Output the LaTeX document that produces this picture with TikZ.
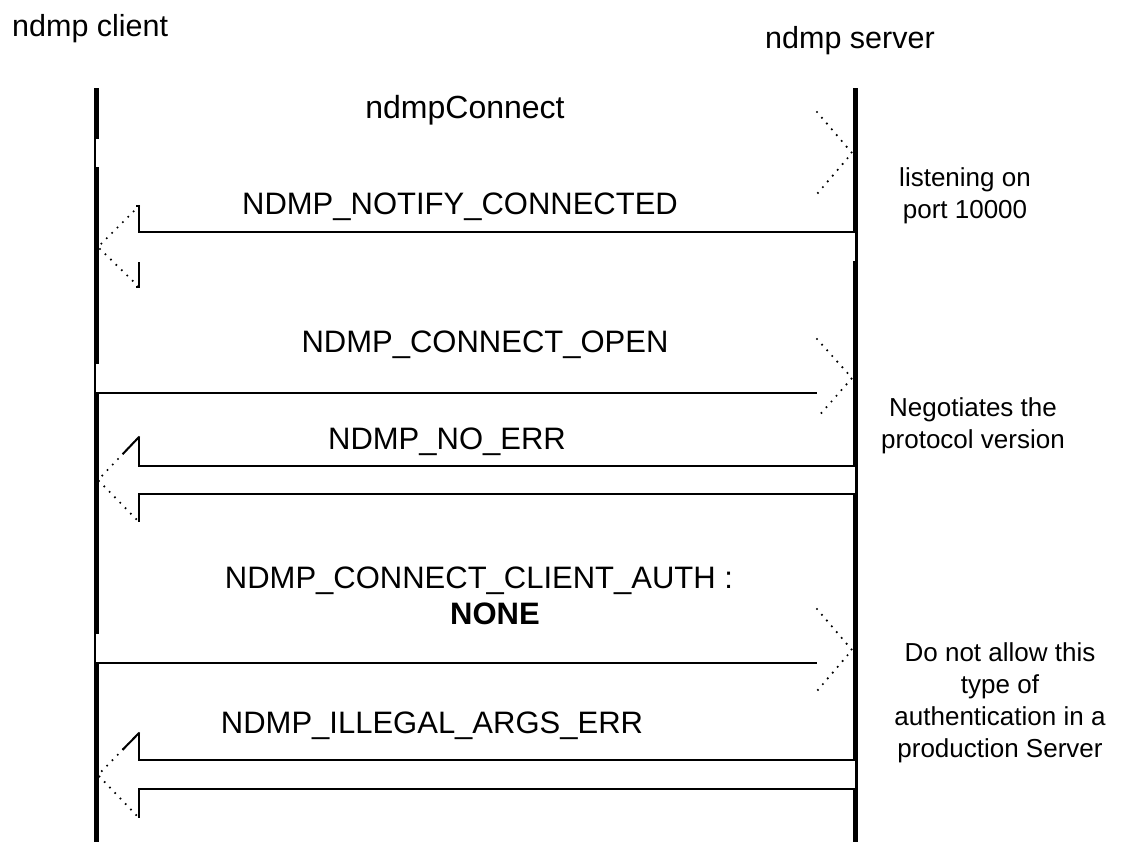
\documentclass[tikz,border=0pt]{standalone}
\usepackage{fontspec}
\setmainfont{Liberation Sans}
\usetikzlibrary{calc}
\begin{document}
\begin{tikzpicture}[x=1pt,y=-1pt,
  life/.style={line width=5pt},
  edge/.style={line width=2pt},
  dots/.style={line width=2.4pt,line cap=round,dash pattern=on 0pt off 7.6pt},
  body/.style={fill=white,draw=none},
  msg/.style={font=\fontsize{31}{36}\selectfont,inner sep=0pt,anchor=base},
  actor/.style={font=\fontsize{30.5}{36}\selectfont,inner sep=0pt,anchor=base west},
  note/.style={font=\fontsize{26}{32}\selectfont,inner sep=0pt,align=center,anchor=north}]
\useasboundingbox (0,0) rectangle (1122,844);

% participants
\node[actor] (client) at (12,36) {ndmp client};
\node[actor] (server) at (765,48) {ndmp server};

% lifelines
\coordinate (cTop) at (96,88);  \coordinate (cBot) at (96,842);
\coordinate (sTop) at (855,88); \coordinate (sBot) at (855,842);
\draw[life] (cTop) -- (cBot);
\draw[life] (sTop) -- (sBot);

% 1: ndmpConnect (client -> server)
\fill[body] (96,139) rectangle (817,167);
\draw[dots] (817,112) -- (852,153) -- (817,194);
\node[msg,font=\fontsize{32}{36}\selectfont] (m1) at (465,118) {ndmpConnect};

% 2: NDMP_NOTIFY_CONNECTED (server -> client)
\fill[body] (139,232) rectangle (855,261);
\draw[edge] (855,232) -- (139,232) -- (139,206) -- (136,206);
\draw[edge] (136,287) -- (139,287) -- (139,262);
\draw[dots] (139,206) -- (98,247) -- (139,287);
\node[msg] (m2) at (460,214) {NDMP\_NOTIFY\_CONNECTED};

% 3: NDMP_CONNECT_OPEN (client -> server)
\fill[body] (96,364) rectangle (817,393);
\draw[edge] (96,393) -- (817,393);
\draw[dots] (817,339) -- (852,378) -- (817,418);
\node[msg] (m3) at (485,352) {NDMP\_CONNECT\_OPEN};

% 4: NDMP_NO_ERR (server -> client)
\fill[body] (139,466) rectangle (855,494);
\draw[edge] (855,466) -- (139,466) -- (139,437);
\draw[edge] (855,494) -- (139,494) -- (139,522);
\draw[edge] (139,437) -- ($(139,437)!0.4!(98,480)$);
\draw[dots] (139,437) -- (98,480) -- (139,522);
\node[msg] (m4) at (447,449) {NDMP\_NO\_ERR};

% 5: NDMP_CONNECT_CLIENT_AUTH : NONE (client -> server)
\fill[body] (96,634) rectangle (817,663);
\draw[edge] (96,663) -- (817,663);
\draw[dots] (817,609) -- (852,650) -- (817,691);
\node[msg] (m5) at (479,588) {NDMP\_CONNECT\_CLIENT\_AUTH :};
\node[msg,font=\fontsize{31}{36}\selectfont\bfseries] (m5b) at (495,624) {NONE};

% 6: NDMP_ILLEGAL_ARGS_ERR (server -> client)
\fill[body] (139,760) rectangle (855,789);
\draw[edge] (855,760) -- (139,760) -- (139,733);
\draw[edge] (855,789) -- (139,789) -- (139,818);
\draw[edge] (139,733) -- ($(139,733)!0.4!(98,775)$);
\draw[dots] (139,733) -- (98,775) -- (139,818);
\node[msg] (m6) at (432,733) {NDMP\_ILLEGAL\_ARGS\_ERR};

% server-side notes
\node[note] (n1) at (965,167) {listening on\\port 10000};
\node[note] (n2) at (973,397) {Negotiates the\\protocol version};
\node[note] (n3) at (1000,642) {Do not allow this\\type of\\authentication in a\\production Server};
\end{tikzpicture}
\end{document}
